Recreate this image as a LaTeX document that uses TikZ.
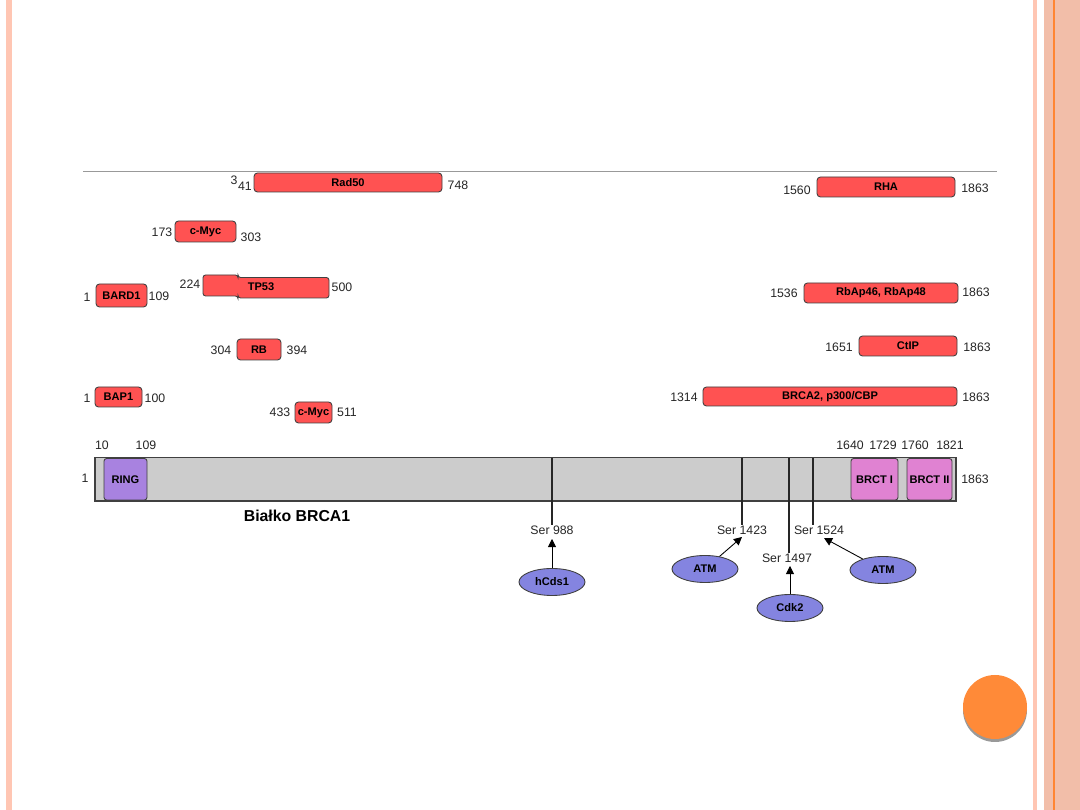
\documentclass[tikz,border=0pt]{standalone}
\usepackage{fontspec}
\setmainfont{Liberation Sans}
\usetikzlibrary{fit,shapes.geometric,arrows.meta}
\definecolor{boxred}{HTML}{FF5252}
\definecolor{bargray}{HTML}{CCCCCC}
\definecolor{ringpurple}{HTML}{A882E0}
\definecolor{brctpink}{HTML}{E082D2}
\definecolor{kinblue}{HTML}{8484E0}
\definecolor{stripe}{HTML}{FFC6B3}
\definecolor{panel}{HTML}{F2BEA9}
\definecolor{orangeline}{HTML}{FF8533}
\definecolor{orangecirc}{HTML}{FF8A38}
\definecolor{edge}{HTML}{404040}
\tikzset{
  boxfont/.style={font=\fontsize{6.3}{7}\selectfont\bfseries},
  redbox/.style={draw=edge, fill=boxred, line width=0.5pt, rounded corners=2pt, inner sep=0pt},
  dombox/.style={draw=edge, line width=0.5pt, rounded corners=1.5pt, inner sep=0pt},
  inlbl/.style={label={[boxfont, inner sep=0pt]center:#1}},
  num/.style={inner sep=0pt, font=\fontsize{7}{8}\selectfont, text=black!85},
  kin/.style={ellipse, draw=edge, fill=kinblue, line width=0.5pt, inner sep=0pt, minimum width=1.32cm, minimum height=0.54cm, boxfont},
  arr/.style={-{Triangle[length=4.6pt,width=4.6pt]}, line width=0.5pt, black},
  tick/.style={line width=0.6pt, black!85}
}
\begin{document}
\begin{tikzpicture}[x=0.02cm,y=-0.02cm]
\useasboundingbox (0,0) rectangle (1080,810);
\fill[white] (0,0) rectangle (1080,810);
% slide decoration
\fill[stripe] (6,0) rectangle (12,810);
\fill[stripe] (1033,0) rectangle (1037,810);
\fill[panel] (1044,0) rectangle (1080,810);
\fill[orangeline] (1052.5,0) rectangle (1054.5,810);
\fill[black!40] (995,710) circle [radius=32];
\fill[orangecirc] (995,707) circle [radius=32];
% top rule
\coordinate (topl) at (83,171);
\coordinate (topr) at (997,171);
\draw[black!40, line width=0.5pt] (topl) -- (topr);

% interacting proteins
\node[redbox, fit={(254,173) (442,192)}, inlbl=Rad50] (rad50) {};
\node[num] (rad50a) at (234,180) {3};
\node[num] (rad50b) at (245,186) {41};
\node[num] (rad50c) at (458,185) {748};

\node[redbox, fit={(817,177) (955,197)}, inlbl=RHA] (rha) {};
\node[num] (rhaa) at (797,190) {1560};
\node[num] (rhab) at (975,188) {1863};

\node[redbox, fit={(175,221) (236,242)}, inlbl=c-Myc] (cmyc1) {};
\node[num] (cmyc1a) at (162,232) {173};
\node[num] (cmyc1b) at (251,237) {303};

\node[redbox, fit={(96,284) (147,307)}, inlbl=BARD1] (bard1) {};
\node[num] (bard1a) at (87,297) {1};
\node[num] (bard1b) at (159,296) {109};

\filldraw[fill=boxred, draw=edge, line width=0.5pt, rounded corners=1.5pt]
  (203,275) -- (238,275) -- (238,277.5) -- (329,277.5) -- (329,298) -- (238,298) -- (238,296) -- (203,296) -- cycle;
\node[boxfont, inner sep=0pt] (tp53) at (261,287) {TP53};
\node[num] (tp53a) at (190,284) {224};
\node[num] (tp53b) at (342,287) {500};

\node[redbox, fit={(804,283) (958,303)}, inlbl={RbAp46, RbAp48}] (rbap) {};
\node[num] (rbapa) at (784,293) {1536};
\node[num] (rbapb) at (976,292) {1863};

\node[redbox, fit={(237,339) (281,360)}, inlbl=RB] (rb) {};
\node[num] (rba) at (221,350) {304};
\node[num] (rbb) at (297,350) {394};

\node[redbox, fit={(859,336) (957,356)}, inlbl=CtIP] (ctip) {};
\node[num] (ctipa) at (839,347) {1651};
\node[num] (ctipb) at (977,347) {1863};

\node[redbox, fit={(95,387) (142,407)}, inlbl=BAP1] (bap1) {};
\node[num] (bap1a) at (87,398) {1};
\node[num] (bap1b) at (155,398) {100};

\node[redbox, fit={(295,402) (332,423)}, inlbl=c-Myc] (cmyc2) {};
\node[num] (cmyc2a) at (280,412) {433};
\node[num] (cmyc2b) at (347,412) {511};

\node[redbox, fit={(703,387) (957,406)}, inlbl={BRCA2, p300/CBP}] (brca2) {};
\node[num] (brca2a) at (684,397) {1314};
\node[num] (brca2b) at (976,397) {1863};

% BRCA1 protein bar
\node[draw=edge, fill=bargray, line width=0.6pt, inner sep=0pt, fit={(95,457.5) (956,501)}] (bar) {};
\node[dombox, fill=ringpurple, fit={(104,458.5) (147,500)}, inlbl=RING] (ring) {};
\node[dombox, fill=brctpink, fit={(851,458.5) (898,500)}, inlbl=BRCT I] (brct1) {};
\node[dombox, fill=brctpink, fit={(907,458.5) (952,500)}, inlbl=BRCT II] (brct2) {};
\node[num] (n10) at (102,445) {10};
\node[num] (n109) at (146,445) {109};
\node[num] (n1640) at (850,445) {1640};
\node[num] (n1729) at (883,445) {1729};
\node[num] (n1760) at (915,445) {1760};
\node[num] (n1821) at (950,445) {1821};
\node[num] (n1) at (85,478) {1};
\node[num] (n1863) at (975,479) {1863};
\node[inner sep=0pt, font=\fontsize{9}{10}\selectfont\bfseries] (title) at (297,516) {Białko BRCA1};

% phosphorylation sites
\coordinate (p988) at (552,458);
\coordinate (p1423) at (742,458);
\coordinate (p1497) at (789,458);
\coordinate (p1524) at (813,458);
\node[num] (ser988) at (552,530) {Ser 988};
\node[num] (ser1423) at (742,530) {Ser 1423};
\node[num] (ser1497) at (787,558) {Ser 1497};
\node[num] (ser1524) at (819,530) {Ser 1524};
\draw[tick] (p988) -- (ser988.north);
\draw[tick] (p1423) -- (ser1423.north);
\draw[tick] (p1497) -- (p1497 |- ser1497.north);
\draw[tick] (p1524) -- (p1524 |- ser1524.north);

% kinases
\node[kin] (hcds1) at (552,582) {hCds1};
\node[kin] (atm1) at (705,569) {ATM};
\node[kin] (cdk2) at (790,608) {Cdk2};
\node[kin] (atm2) at (883,570) {ATM};
\coordinate (t988) at (552,539);
\coordinate (t1423) at (742,537);
\coordinate (t1497) at (790,566);
\coordinate (t1524) at (824,538);
\draw[arr] (hcds1) -- (t988);
\draw[arr] (atm1) -- (t1423);
\draw[arr] (cdk2) -- (t1497);
\draw[arr] (atm2) -- (t1524);
\end{tikzpicture}
\end{document}
